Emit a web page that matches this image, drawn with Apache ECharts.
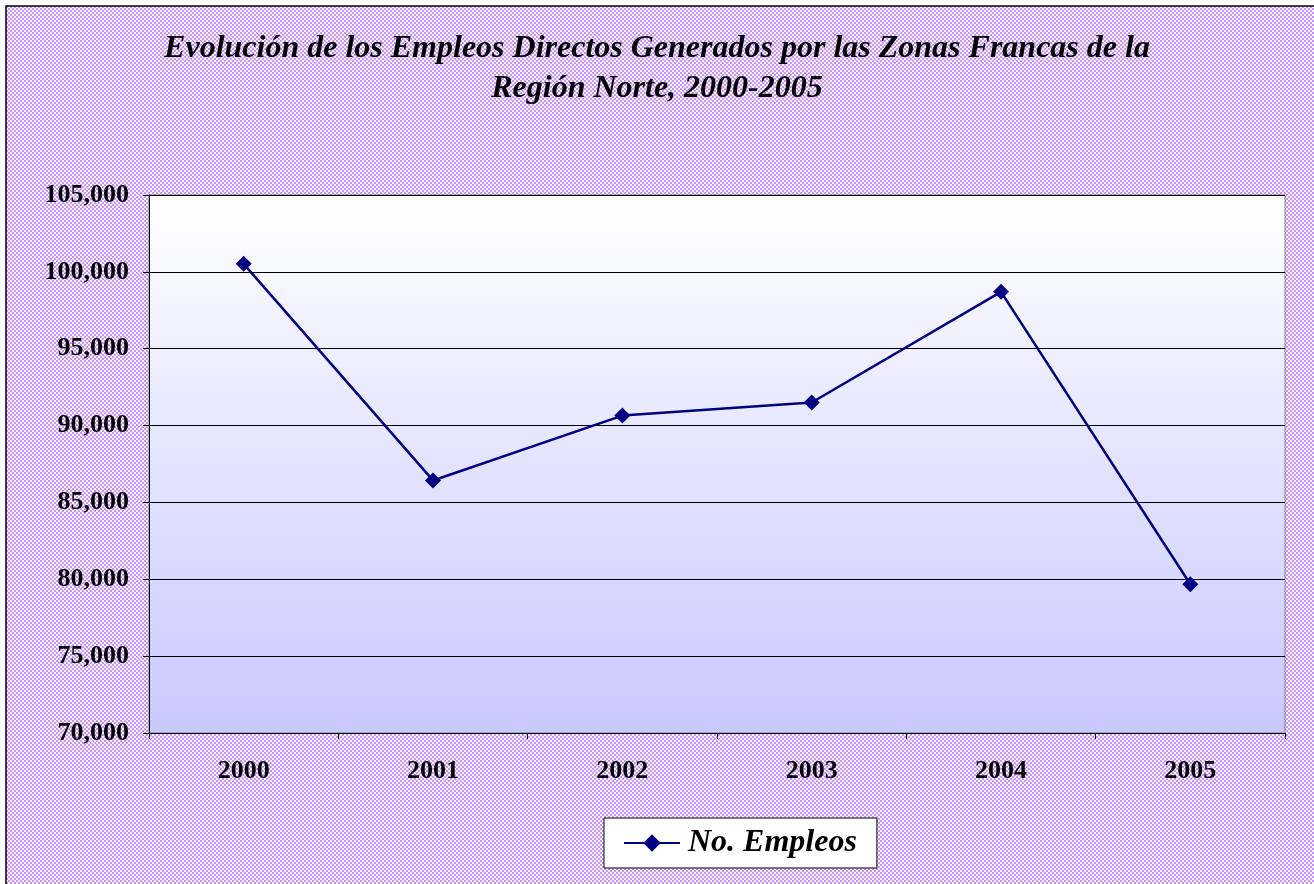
<!DOCTYPE html>
<html><head><meta charset="utf-8">
<script src="https://cdn.jsdelivr.net/npm/echarts@6/dist/echarts.min.js"></script>
<style>html,body{margin:0;padding:0;background:#fff}#c{width:1314px;height:884px}</style>
</head><body><div id="c"></div>
<script>
var categories = ['2000','2001','2002','2003','2004','2005'];
var empleos = [100520, 86430, 90650, 91500, 98700, 79680];
var seriesName = 'No. Empleos';
var titleText = 'Evolución de los Empleos Directos Generados por las Zonas Francas de la\nRegión Norte, 2000-2005';

var pc = document.createElement('canvas');
pc.width = 4; pc.height = 4;
var g = pc.getContext('2d');
g.fillStyle = '#faf4ff'; g.fillRect(0,0,4,4);
g.fillStyle = '#c894fb';
g.fillRect(0,0,2,2); g.fillRect(2,2,2,2);

var chart = echarts.init(document.getElementById('c'), null, {renderer:'canvas'});
var serif = '"Liberation Serif","Times New Roman",serif';
chart.setOption({
  animation:false,
  backgroundColor:'#ffffff',
  graphic:[
    {type:'rect', z:-10, shape:{x:6,y:6,width:1314,height:884}, style:{fill:{image:pc, repeat:'repeat'}, stroke:'#000', lineWidth:1.5}, silent:true}
  ],
  title:{
    text:titleText, left:'center', top:24,
    textStyle:{fontFamily:serif, fontSize:32, fontWeight:'bold', fontStyle:'italic', color:'#000', lineHeight:40}
  },
  legend:{
    top:818, left:604,
    data:[seriesName],
    backgroundColor:'#ffffff', borderColor:'#000', borderWidth:1,
    padding:[9,20,9,19],
    itemWidth:56, itemHeight:22, itemGap:0,
    textStyle:{fontFamily:serif, fontSize:32, fontWeight:'bold', fontStyle:'italic', color:'#000', padding:[0,0,0,3]}
  },
  grid:{left:149, right:29, top:195, bottom:151, show:true, borderColor:'#808080', borderWidth:1,
    backgroundColor:{type:'linear',x:0,y:0,x2:0,y2:1,colorStops:[{offset:0,color:'#ffffff'},{offset:1,color:'#c8c8ff'}]}},
  xAxis:{
    type:'category', data:categories, boundaryGap:true,
    axisLine:{lineStyle:{color:'#000',width:1}},
    axisTick:{show:true, length:6, lineStyle:{color:'#000'}},
    axisLabel:{fontFamily:serif, fontSize:26, fontWeight:'bold', color:'#000', margin:25}
  },
  yAxis:{
    type:'value', min:70000, max:105000, interval:5000,
    axisLine:{show:true, lineStyle:{color:'#000'}},
    axisTick:{show:true, length:6, lineStyle:{color:'#000'}},
    splitLine:{lineStyle:{color:'#000', width:1}},
    axisLabel:{fontFamily:serif, fontSize:26, fontWeight:'bold', color:'#000', margin:20,
      formatter:function(v){return v.toLocaleString('en-US');}}
  },
  series:[{
    name:seriesName, type:'line', data:empleos,
    symbol:'diamond', symbolSize:16,
    lineStyle:{color:'#000080', width:2.5},
    itemStyle:{color:'#000080'}
  }]
});
</script></body></html>
